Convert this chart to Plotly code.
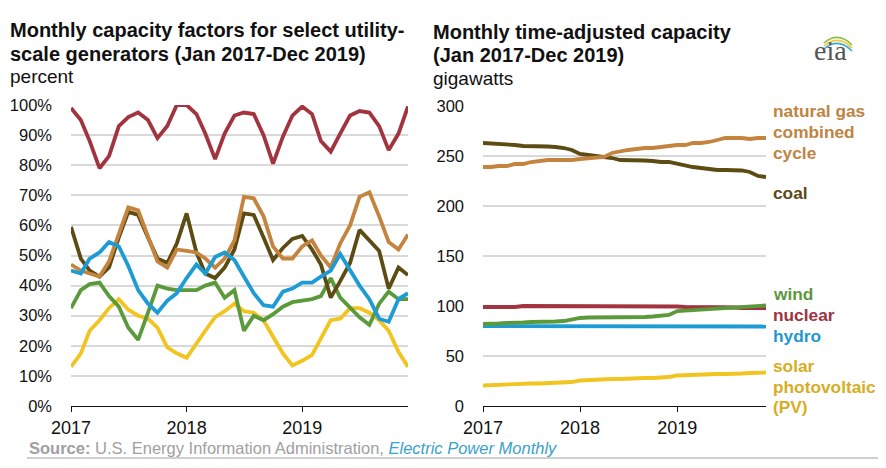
import pandas as pd
import plotly.graph_objects as go

# the page puts the plot 8px in from the top-left corner;
# keep it small enough that nothing overflows the window
OFF = 8
W, H = 886 - 2 * OFF, 468 - 2 * OFF

# months Jan 2017 - Dec 2019
months = pd.date_range("2017-01-01", "2019-12-01", freq="MS")
year_ticks = ["2017-01-01", "2018-01-01", "2019-01-01"]
year_labels = ["2017", "2018", "2019"]

# left panel: monthly capacity factors (percent)
cf_nuclear = [99, 95, 88, 79, 83, 93, 96, 97.5, 95, 89, 93, 100,
              100, 97, 90.5, 82, 90.5, 96.5, 97.5, 97, 90, 80.5, 89.5, 96.5,
              99.5, 97, 88, 84.5, 90.5, 96.5, 98, 97.5, 93, 85, 90.5, 99.5]
cf_gas = [47, 45, 44, 43, 48, 57, 66, 65, 56, 48, 46, 52,
          51.5, 51, 49, 46, 49, 55, 69.5, 69, 63, 53, 49, 49,
          53, 55, 50, 46, 54, 60, 69.5, 71, 63, 54.5, 52, 57]
cf_coal = [59.5, 49, 45, 43, 46, 56, 64.5, 63.5, 56, 49, 47.5, 54,
           64, 51, 44, 42.5, 46, 52, 64, 63.5, 56, 48.5, 52.5, 55.5,
           56.5, 52, 47, 36, 41.5, 47.5, 58.5, 55, 51.5, 39, 46, 43.5]
cf_hydro = [45, 44, 49, 51, 54.5, 53, 46.5, 38.5, 34, 31, 35, 37.5,
            42.5, 47, 44, 49.5, 51, 48.5, 43, 37.5, 33.5, 33, 38, 39,
            41, 41, 43, 45, 50.5, 45, 40, 35.5, 29, 28, 35.5, 37.5]
cf_wind = [32.5, 38.5, 40.5, 41, 36.5, 33, 26, 22, 31, 40, 39, 38.5,
           38.5, 38.5, 40, 41, 36, 38.5, 25, 30, 28.5, 30.5, 33, 34.5,
           35, 35.5, 36.5, 42.5, 36, 32.5, 29.5, 27, 34, 38, 35.5, 35.5]
cf_solar = [13, 17.5, 25, 28.5, 32.5, 35.5, 32, 30, 29, 26, 19.5, 17.5,
            16, 21, 25, 29.5, 31.5, 34, 31.5, 31, 28.5, 23, 17.5, 13.5,
            15, 17, 22.5, 28.5, 29, 32.5, 32.5, 31, 28.5, 25, 18, 13]

# right panel: monthly time-adjusted capacity (gigawatts)
gw_gas = [239, 239, 240, 240, 242, 242, 244, 245, 246, 246, 246, 246,
          247, 248, 248, 249, 253, 255, 256, 257, 258, 258, 259, 260,
          261, 261, 263, 263, 264, 266, 268, 268, 268, 267, 268, 268]
gw_coal = [263, 262.5, 262, 262, 261, 260, 260, 260, 259.5, 259, 258, 256,
           252, 251, 250, 249.5, 248, 246, 246, 246, 245.5, 245, 244, 244,
           242, 240, 239, 238, 237, 236, 236, 236, 235.5, 234, 230, 229]
gw_nuclear = [99, 99, 99, 99, 99, 100, 100, 100, 100, 100, 100, 100,
              100, 99.5, 99.5, 99.5, 99.5, 99.5, 99.5, 99.5, 99.5, 99.5, 99.5, 99.5,
              99.5, 99, 99, 99, 99, 99, 99, 98.5, 98, 98, 98, 98]
gw_wind = [82, 82, 82.5, 83, 83, 83.5, 84, 84, 84, 84.5, 85, 86.5,
           88, 88.5, 88.5, 88.5, 89, 89, 89, 89, 89, 89.5, 90, 91,
           95, 95.5, 96, 96.5, 97, 97.5, 98, 98.5, 99, 99.5, 100, 100.5]
gw_hydro = [80, 80, 80, 80, 80, 80, 80, 80, 80, 80, 80, 80,
            80, 80, 80, 80, 80, 80, 80, 80, 80, 80, 80, 80,
            80, 80, 80, 80, 80, 79.5, 79.5, 79.5, 79.5, 79.5, 79.5, 79.5]
gw_solar = [20.5, 21, 21, 21.5, 22, 22, 22.5, 22.5, 23, 23, 23.5, 24,
            25.5, 26, 26.5, 26.5, 27, 27, 27.5, 27.5, 28, 28, 28.5, 29,
            30.5, 31, 31, 31.5, 31.5, 32, 32, 32, 32.5, 33, 33, 33.5]

colors = {
    "nuclear": "#a2343f",
    "gas": "#c5843e",
    "coal": "#5c4b12",
    "hydro": "#1c9bd5",
    "wind": "#5b9a3b",
    "solar": "#f2c41f",
}
label_colors = {
    "nuclear": "#9e3340",
    "gas": "#c08341",
    "coal": "#5a4915",
    "hydro": "#1f98cf",
    "wind": "#5b973c",
    "solar": "#d7ae23",
}


def px(x):
    return (x - OFF) / W


def py(y):
    return 1 - (y - OFF) / H


fig = go.Figure()

left = [("solar", cf_solar), ("wind", cf_wind), ("coal", cf_coal),
        ("gas", cf_gas), ("hydro", cf_hydro), ("nuclear", cf_nuclear)]
for name, vals in left:
    fig.add_trace(go.Scatter(x=months, y=vals, mode="lines", name=name,
                             line=dict(color=colors[name], width=3.8),
                             xaxis="x", yaxis="y", showlegend=False))

right = [("solar", gw_solar), ("hydro", gw_hydro), ("nuclear", gw_nuclear),
         ("wind", gw_wind), ("coal", gw_coal), ("gas", gw_gas)]
for name, vals in right:
    fig.add_trace(go.Scatter(x=months, y=vals, mode="lines", name=name,
                             line=dict(color=colors[name], width=3.8),
                             xaxis="x2", yaxis="y2", showlegend=False))

font = "Liberation Sans, Arial, sans-serif"
xcommon = dict(type="date", range=["2017-01-01", "2019-12-01"],
               tickvals=year_ticks, ticktext=year_labels,
               showgrid=False, showline=True, linecolor="#111", linewidth=1.4,
               ticks="outside", ticklen=5, tickcolor="#111", tickwidth=1.4,
               tickfont=dict(size=18, color="#111"), fixedrange=True)
ycommon = dict(showgrid=True, gridcolor="#d9d9d9", gridwidth=1.5,
               zeroline=False, showline=False, ticks="",
               tickfont=dict(size=16.5, color="#111"), ticklabelstandoff=18)

fig.update_layout(
    width=W, height=H,
    margin=dict(l=0, r=0, t=0, b=0, autoexpand=False),
    paper_bgcolor="white", plot_bgcolor="white",
    font=dict(family=font, color="#111"),
    xaxis=dict(domain=[px(71), px(408)], anchor="y", **xcommon),
    yaxis=dict(domain=[py(406), py(105)], anchor="x", range=[0, 100],
               tickvals=list(range(0, 101, 10)),
               ticktext=[f"{v}%" for v in range(0, 101, 10)], **ycommon),
    xaxis2=dict(domain=[px(483), px(766)], anchor="y2", **xcommon),
    yaxis2=dict(domain=[py(406), py(106)], anchor="x2", range=[0, 300],
                tickvals=[0, 50, 100, 150, 200, 250, 300], **ycommon),
)

ann = []


def text(x, y, s, size=20, color="#111", bold=False, italic=False, anchor="left"):
    if bold:
        s = f"<b>{s}</b>"
    if italic:
        s = f"<i>{s}</i>"
    ann.append(dict(x=px(x), y=py(y), xref="paper", yref="paper", text=s,
                    showarrow=False, xanchor=anchor, yanchor="middle",
                    font=dict(size=size, color=color, family=font)))


# panel titles
text(8, 30, "Monthly capacity factors for select utility-", bold=True)
text(8, 54, "scale generators (Jan 2017-Dec 2019)", bold=True)
text(8, 76, "percent", size=19)
text(431, 32, "Monthly time-adjusted capacity", bold=True)
text(431, 55, "(Jan 2017-Dec 2019)", bold=True)
text(431, 78, "gigawatts", size=19)

# direct labels on right panel
lbl = [(111, "natural gas", "gas"), (132, "combined", "gas"), (153, "cycle", "gas"),
       (193, "coal", "coal"), (294, "wind", "wind"), (315, "nuclear", "nuclear"),
       (336, "hydro", "hydro"), (366, "solar", "solar"),
       (387, "photovoltaic", "solar"), (407, "(PV)", "solar")]
for y, s, k in lbl:
    text(771, y, s, size=17.3, color=label_colors[k], bold=True)

# source line
ann.append(dict(x=px(27), y=py(448), xref="paper", yref="paper", showarrow=False,
                xanchor="left", yanchor="middle",
                text="<b>Source:</b> U.S. Energy Information Administration, "
                     "<i><span style='color:#3ba1c9'>Electric Power Monthly</span></i>",
                font=dict(size=16.5, color="#a0a0a0", family=font)))

# eia logo
ann.append(dict(x=px(830), y=py(51), xref="paper", yref="paper", showarrow=False,
                xanchor="center", yanchor="middle", text="eia",
                font=dict(size=28, color="#555", family="Liberation Serif, DejaVu Serif, serif")))

fig.update_layout(annotations=ann)

shapes = [dict(type="line", xref="paper", yref="paper", x0=px(27), x1=1,
               y0=py(458), y1=py(458), line=dict(color="#d0d0d0", width=2))]
arcs = [("#8cc04a", 35), ("#f0c93a", 38), ("#38a7d6", 41)]
for c, y0 in arcs:
    shapes.append(dict(type="path", xref="paper", yref="paper",
                       path=f"M {px(824)},{py(y0 + 8)} Q {px(838)},{py(y0 - 4)} {px(852)},{py(y0 + 10)}",
                       line=dict(color=c, width=1.6)))
fig.update_layout(shapes=shapes)

fig.write_html("out.html")
